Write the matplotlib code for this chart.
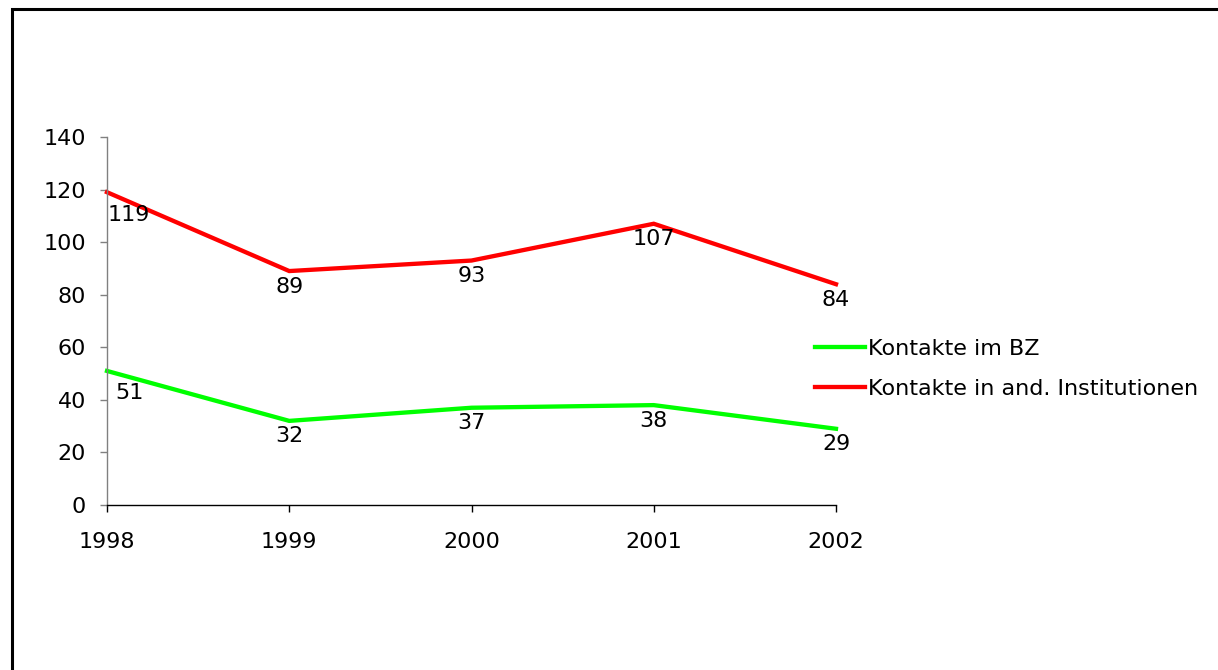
import matplotlib.pyplot as plt
from matplotlib.patches import Rectangle

# Dados do gráfico
anos = ['1998', '1999', '2000', '2001', '2002']
kontakte_bz = [51, 32, 37, 38, 29]
kontakte_inst = [119, 89, 93, 107, 84]
serie_nomes = ['Kontakte im BZ', 'Kontakte in and. Institutionen']
y_ticks = [0, 20, 40, 60, 80, 100, 120, 140]

plt.rcParams['font.family'] = ['DejaVu Sans']
FS = 16

W, H = 1218, 670
fig = plt.figure(figsize=(W / 100, H / 100), dpi=100)
ax = fig.add_axes([107 / W, 1 - 505 / H, (836 - 107) / W, (505 - 137) / H])

x = list(range(len(anos)))
ax.plot(x, kontakte_bz, color='#00ff00', lw=3.1, label=serie_nomes[0],
        solid_joinstyle='miter', clip_on=False)
ax.plot(x, kontakte_inst, color='#ff0000', lw=3.1, label=serie_nomes[1],
        solid_joinstyle='miter', clip_on=False)

# Rótulos dos dados
for serie in (kontakte_bz, kontakte_inst):
    for i, v in enumerate(serie):
        if i == 0:
            off = (16, -9)
        else:
            off = (0, -4)
        ax.annotate(str(v), (i, v), xytext=off, textcoords='offset points',
                    ha='center', va='top', fontsize=FS)

ax.set_xlim(0, len(anos) - 1)
ax.set_ylim(0, 140)
ax.set_xticks(x)
ax.set_xticklabels(anos)
ax.set_yticks(y_ticks)

for s in ('top', 'right'):
    ax.spines[s].set_visible(False)
ax.spines['left'].set_color('#808080')
ax.spines['bottom'].set_color('black')
ax.spines['left'].set_linewidth(1)
ax.spines['bottom'].set_linewidth(1)
ax.tick_params(axis='y', length=5, width=1, color='#808080', labelsize=FS, pad=10)
ax.tick_params(axis='x', length=5, width=1, color='black', labelsize=FS, pad=14.5)

# Legenda
fig.legend(loc='upper left', bbox_to_anchor=(815 / W, 1 - 339 / H), frameon=False,
           fontsize=FS, handlelength=2.25, handletextpad=0.13, labelspacing=0.9,
           borderaxespad=0, borderpad=0)

# Moldura
fig.add_artist(Rectangle((11.5 / W, -0.5), 2, 1.5 - 9.5 / H, transform=fig.transFigure,
                         fill=False, lw=2.2, ec='black'))

fig.savefig('out.png', dpi=100)
